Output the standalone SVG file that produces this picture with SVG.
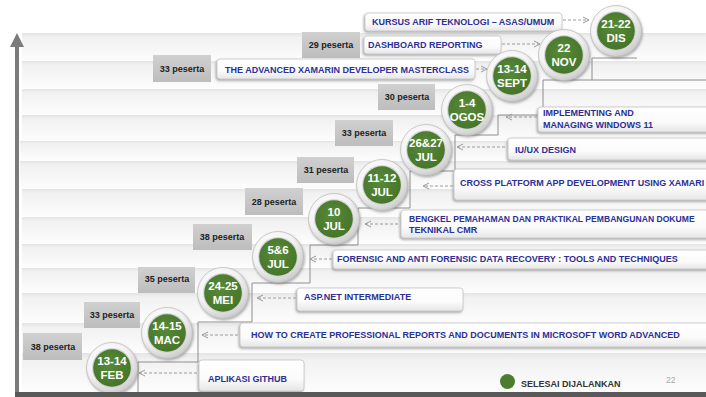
<svg xmlns="http://www.w3.org/2000/svg" width="706" height="397" viewBox="0 0 706 397">
<style>
.band{fill:url(#gBand)}
.pbox{fill:url(#gPes)}
.ptxt{font-family:"Liberation Sans",Arial,sans-serif;font-weight:bold;font-size:9px;fill:#222;text-anchor:middle}
.cbox{fill:url(#gBox);stroke:#c4c4c4;stroke-width:0.8;filter:url(#fBox)}
.ctxt{font-family:"Liberation Sans",Arial,sans-serif;font-weight:bold;font-size:9px;fill:#2b2f96}
.ring{fill:url(#gRing);stroke:#b8b8b8;stroke-width:0.7;filter:url(#fCir)}
.inner{fill:#d4d4d4}
.green{fill:url(#gGreen)}
.dtxt{font-family:"Liberation Sans",Arial,sans-serif;font-weight:bold;font-size:11.5px;fill:#fff;text-anchor:middle}
.arr{stroke:#9a9a9a;stroke-width:1;stroke-dasharray:3 2;fill:none;marker-end:url(#mArr)}
.stair{stroke:#8e8e8e;stroke-width:1;fill:none}
</style>
<defs>
<linearGradient id="gBand" x1="0" y1="0" x2="0" y2="1">
<stop offset="0" stop-color="#e4e4e4"/><stop offset="0.15" stop-color="#f1f1f1"/><stop offset="1" stop-color="#fdfdfd"/>
</linearGradient>
<linearGradient id="gPes" x1="0" y1="0" x2="0" y2="1">
<stop offset="0" stop-color="#d0d0d0"/><stop offset="1" stop-color="#bdbdbd"/>
</linearGradient>
<linearGradient id="gBox" x1="0" y1="0" x2="0" y2="1">
<stop offset="0" stop-color="#ffffff"/><stop offset="0.6" stop-color="#fbfbfb"/><stop offset="1" stop-color="#e6e6e6"/>
</linearGradient>
<radialGradient id="gRing" cx="0.4" cy="0.35" r="0.7">
<stop offset="0" stop-color="#ffffff"/><stop offset="0.6" stop-color="#f3f3f3"/><stop offset="1" stop-color="#c6c6c6"/>
</radialGradient>
<radialGradient id="gGreen" cx="0.45" cy="0.4" r="0.65">
<stop offset="0" stop-color="#578a38"/><stop offset="1" stop-color="#457429"/>
</radialGradient>
<filter id="fBox" x="-10%" y="-30%" width="120%" height="170%">
<feDropShadow dx="-1" dy="1.5" stdDeviation="0.8" flood-color="#777" flood-opacity="0.6"/>
</filter>
<filter id="fCir" x="-30%" y="-30%" width="160%" height="160%">
<feDropShadow dx="1" dy="1.5" stdDeviation="1.2" flood-color="#555" flood-opacity="0.45"/>
</filter>
<marker id="mArr" viewBox="0 0 8 8" refX="7" refY="4" markerWidth="8" markerHeight="8" markerUnits="userSpaceOnUse" orient="auto">
<path d="M1,1 L7,4 L1,7" fill="none" stroke="#9a9a9a" stroke-width="1"/>
</marker>
</defs>

<rect x="0" y="0" width="706" height="397" fill="#fff"/>
<g id="background">
<rect class="band" x="22" y="33" width="684" height="28"/>
<rect class="band" x="22" y="61" width="684" height="28"/>
<rect class="band" x="22" y="89" width="684" height="26"/>
<rect class="band" x="22" y="115" width="684" height="26"/>
<rect class="band" x="20" y="141" width="686" height="20"/>
<rect class="band" x="20" y="161" width="686" height="28"/>
<rect class="band" x="22" y="189" width="684" height="28"/>
<rect class="band" x="22" y="217" width="684" height="27"/>
<rect class="band" x="22" y="244" width="684" height="24"/>
<rect class="band" x="22" y="268" width="684" height="25"/>
<rect class="band" x="22" y="293" width="684" height="30"/>
<rect class="band" x="22" y="323" width="684" height="30"/>
<rect class="band" x="22" y="353" width="684" height="40"/>
</g>

<g id="connectors">
<path class="stair" d="M138,393 V362 H198 V322 H252 V283 H310 V245 H358 V208 H410 V171 H455 V135 H498 V115 H543 V80 H706 M592,80 V58 H637"/>
</g>

<g id="peserta">
<g id="p_feb"><rect class="pbox" x="23" y="333" width="59" height="27"/><text class="ptxt" x="53" y="349.5">38 peserta</text></g>
<g id="p_mac"><rect class="pbox" x="84" y="302" width="56" height="26"/><text class="ptxt" x="112" y="318">33 peserta</text></g>
<g id="p_mei"><rect class="pbox" x="138" y="267" width="57" height="26"/><text class="ptxt" x="167" y="282">35 peserta</text></g>
<g id="p_jul56"><rect class="pbox" x="193" y="224" width="59" height="26"/><text class="ptxt" x="222" y="240">38 peserta</text></g>
<g id="p_jul10"><rect class="pbox" x="245" y="188" width="58" height="27"/><text class="ptxt" x="274" y="204.5">28 peserta</text></g>
<g id="p_jul1112"><rect class="pbox" x="297" y="157" width="57" height="26"/><text class="ptxt" x="326" y="173">31 peserta</text></g>
<g id="p_jul2627"><rect class="pbox" x="335" y="120" width="58" height="26"/><text class="ptxt" x="364" y="136">33 peserta</text></g>
<g id="p_ogos"><rect class="pbox" x="378" y="84" width="57" height="26"/><text class="ptxt" x="407" y="100">30 peserta</text></g>
<g id="p_sept"><rect class="pbox" x="153" y="55" width="58" height="27"/><text class="ptxt" x="182" y="71.5">33 peserta</text></g>
<g id="p_nov"><rect class="pbox" x="302" y="32" width="58" height="26"/><text class="ptxt" x="331" y="48">29 peserta</text></g>
</g>

<g id="courses">
<g id="c_dis"><rect class="cbox" x="365" y="13" width="197" height="18" rx="3"/><text class="ctxt" x="372" y="25">KURSUS ARIF TEKNOLOGI – ASAS/UMUM</text></g>
<g id="c_nov"><rect class="cbox" x="364" y="36" width="137" height="18" rx="3"/><text class="ctxt" x="368" y="48">DASHBOARD REPORTING</text></g>
<g id="c_sept"><rect class="cbox" x="217" y="59" width="258" height="20" rx="3"/><text class="ctxt" x="225" y="72.5">THE ADVANCED XAMARIN DEVELOPER MASTERCLASS</text></g>
<g id="c_ogos"><rect class="cbox" x="538" y="107" width="176" height="25" rx="3"/><text class="ctxt" x="543" y="116">IMPLEMENTING AND</text><text class="ctxt" x="543" y="128">MANAGING  WINDOWS 11</text></g>
<g id="c_jul2627"><rect class="cbox" x="508" y="138" width="206" height="22" rx="3"/><text class="ctxt" x="515" y="153">IU/UX DESIGN</text></g>
<g id="c_jul1112"><rect class="cbox" x="454" y="169" width="260" height="31" rx="3"/><text class="ctxt" x="460" y="186">CROSS PLATFORM APP DEVELOPMENT USING XAMARI</text></g>
<g id="c_jul10"><rect class="cbox" x="401" y="210" width="313" height="28" rx="3"/><text class="ctxt" x="409" y="222" style="font-size:8.6px">BENGKEL PEMAHAMAN DAN PRAKTIKAL PEMBANGUNAN DOKUME</text><text class="ctxt" x="409" y="233">TEKNIKAL CMR</text></g>
<g id="c_jul56"><rect class="cbox" x="333" y="250" width="381" height="19" rx="3"/><text class="ctxt" x="337" y="262">FORENSIC AND ANTI FORENSIC DATA RECOVERY : TOOLS AND TECHNIQUES</text></g>
<g id="c_mei"><rect class="cbox" x="297" y="288" width="166" height="23" rx="3"/><text class="ctxt" x="304" y="300">ASP.NET INTERMEDIATE</text></g>
<g id="c_mac"><rect class="cbox" x="240" y="323" width="474" height="24" rx="3"/><text class="ctxt" x="251" y="338">HOW TO CREATE PROFESSIONAL REPORTS AND DOCUMENTS IN MICROSOFT WORD ADVANCED</text></g>
<g id="c_feb"><rect class="cbox" x="199" y="360" width="105" height="31" rx="3"/><text class="ctxt" x="208" y="382">APLIKASI GITHUB</text></g>
</g>

<g id="arrows">
<line class="arr" x1="563" y1="20" x2="589" y2="20"/>
<line class="arr" x1="502" y1="44" x2="540" y2="44"/>
<line class="arr" x1="476" y1="69" x2="487" y2="69"/>
<line class="arr" x1="537" y1="117" x2="506" y2="117"/>
<line class="arr" x1="505" y1="147" x2="457" y2="147"/>
<line class="arr" x1="453" y1="186" x2="423" y2="186"/>
<line class="arr" x1="398" y1="224" x2="365" y2="224"/>
<line class="arr" x1="332" y1="259" x2="310" y2="259"/>
<line class="arr" x1="296" y1="298" x2="257" y2="298"/>
<line class="arr" x1="238" y1="335" x2="202" y2="335"/>
<line class="arr" x1="197" y1="373" x2="139" y2="373"/>
</g>

<g id="dates">
<g id="d_feb"><circle class="ring" cx="112" cy="368" r="25.5"/><circle class="inner" cx="112" cy="368" r="20"/><circle class="green" cx="112" cy="368" r="18.8"/><text class="dtxt" x="112" y="364.5">13-14</text><text class="dtxt" x="112" y="378.5">FEB</text></g>
<g id="d_mac"><circle class="ring" cx="167" cy="333" r="25.5"/><circle class="inner" cx="167" cy="333" r="20"/><circle class="green" cx="167" cy="333" r="18.8"/><text class="dtxt" x="167" y="329.5">14-15</text><text class="dtxt" x="167" y="343.5">MAC</text></g>
<g id="d_mei"><circle class="ring" cx="223" cy="293" r="25.5"/><circle class="inner" cx="223" cy="293" r="20"/><circle class="green" cx="223" cy="293" r="18.8"/><text class="dtxt" x="223" y="289.5">24-25</text><text class="dtxt" x="223" y="303.5">MEI</text></g>
<g id="d_jul56"><circle class="ring" cx="278" cy="257" r="25.5"/><circle class="inner" cx="278" cy="257" r="20"/><circle class="green" cx="278" cy="257" r="18.8"/><text class="dtxt" x="278" y="253.5">5&amp;6</text><text class="dtxt" x="278" y="267.5">JUL</text></g>
<g id="d_jul10"><circle class="ring" cx="334" cy="219" r="25.5"/><circle class="inner" cx="334" cy="219" r="20"/><circle class="green" cx="334" cy="219" r="18.8"/><text class="dtxt" x="334" y="215.5">10</text><text class="dtxt" x="334" y="229.5">JUL</text></g>
<g id="d_jul1112"><circle class="ring" cx="382" cy="185" r="25.5"/><circle class="inner" cx="382" cy="185" r="20"/><circle class="green" cx="382" cy="185" r="18.8"/><text class="dtxt" x="382" y="181.5">11-12</text><text class="dtxt" x="382" y="195.5">JUL</text></g>
<g id="d_jul2627"><circle class="ring" cx="426" cy="150" r="25.5"/><circle class="inner" cx="426" cy="150" r="20"/><circle class="green" cx="426" cy="150" r="18.8"/><text class="dtxt" x="426" y="146.5">26&amp;27</text><text class="dtxt" x="426" y="160.5">JUL</text></g>
<g id="d_ogos"><circle class="ring" cx="467" cy="110" r="25.5"/><circle class="inner" cx="467" cy="110" r="20"/><circle class="green" cx="467" cy="110" r="18.8"/><text class="dtxt" x="467" y="106.5">1-4</text><text class="dtxt" x="467" y="120.5">OGOS</text></g>
<g id="d_sept"><circle class="ring" cx="512" cy="76" r="25.5"/><circle class="inner" cx="512" cy="76" r="20"/><circle class="green" cx="512" cy="76" r="18.8"/><text class="dtxt" x="512" y="72.5">13-14</text><text class="dtxt" x="512" y="86.5">SEPT</text></g>
<g id="d_nov"><circle class="ring" cx="564" cy="55" r="25.5"/><circle class="inner" cx="564" cy="55" r="20"/><circle class="green" cx="564" cy="55" r="18.8"/><text class="dtxt" x="564" y="51.5">22</text><text class="dtxt" x="564" y="65.5">NOV</text></g>
<g id="d_dis"><circle class="ring" cx="616" cy="31" r="25.5"/><circle class="inner" cx="616" cy="31" r="20"/><circle class="green" cx="616" cy="31" r="18.8"/><text class="dtxt" x="616" y="27.5">21-22</text><text class="dtxt" x="616" y="41.5">DIS</text></g>
</g>

<g id="axis">
<rect x="15" y="45" width="4" height="350" fill="#7b7b7b"/>
<polygon points="10,47 17,33 24,47" fill="#7b7b7b"/>
<rect x="15" y="392" width="691" height="5" fill="#595959"/>
</g>

<g id="legend">
<circle cx="507.5" cy="381.5" r="7.5" fill="#4c7c30"/>
<text x="521" y="387" font-family="Liberation Sans, Arial, sans-serif" font-weight="bold" font-size="9" fill="#333">SELESAI DIJALANKAN</text>
<text x="666" y="383" font-family="Liberation Sans, Arial, sans-serif" font-size="8.5" fill="#aaa">22</text>
</g>
</svg>
